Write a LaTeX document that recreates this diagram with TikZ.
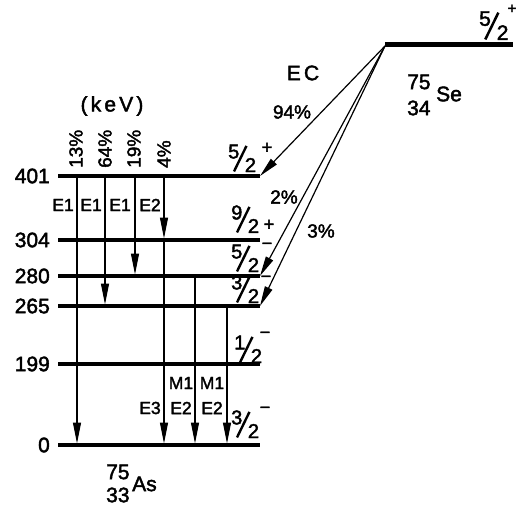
\documentclass[tikz,border=0pt]{standalone}
\usepackage{graphicx}
\usepackage{fontspec}
\setmainfont{Liberation Sans}[FakeBold=2]
\usetikzlibrary{arrows.meta}
\newcommand\myfr[2]{\raisebox{0.68em}{#1}\kern-0.32em\makebox[0pt][l]{\rotatebox{64}{\rule{1.42em}{0.12em}}}\kern0.6em#2}
\begin{document}
\begin{tikzpicture}[x=1pt,y=-1pt,
  lev/.style={line width=3.5pt},
  levthick/.style={line width=4.5pt},
  tr/.style={line width=1.2pt,-{Triangle[length=21pt,width=8pt]},shorten >=1.5pt},
  ec/.style={line width=1.2pt,-{Triangle[length=20pt,width=8pt]}},
  num/.style={font=\fontsize{21}{21}\selectfont,anchor=east,inner sep=0pt},
  mult/.style={font=\fontsize{17.5}{17.5}\selectfont,inner sep=0pt},
  pct/.style={font=\fontsize{19}{19}\selectfont,inner sep=0pt},
  spin/.style={font=\fontsize{20}{20}\selectfont,inner sep=0pt,anchor=base west},
  sgn/.style={font=\fontsize{18}{18}\selectfont,inner sep=0pt},
  big/.style={font=\fontsize{21}{21}\selectfont,inner sep=0pt}]
\useasboundingbox (0,0) rectangle (517,508);

% level end points
\coordinate (A401) at (58,176);  \coordinate (B401) at (260,176);
\coordinate (A304) at (58,240);  \coordinate (B304) at (260,240);
\coordinate (A280) at (58,276);  \coordinate (B280) at (260,276);
\coordinate (A265) at (58,306);  \coordinate (B265) at (260,306);
\coordinate (A199) at (58,364);  \coordinate (B199) at (260,364);
\coordinate (A0)   at (58,445);  \coordinate (B0)   at (260,445);
\coordinate (ASe)  at (385,45);  \coordinate (BSe)  at (513,45);

% levels
\draw[levthick] (A401) -- (B401);
\draw[lev] (A304) -- (B304);
\draw[lev] (A280) -- (B280);
\draw[lev] (A265) -- (B265);
\draw[lev] (A199) -- (B199);
\draw[levthick] (A0) -- (B0);
\draw[line width=5pt] (ASe) -- (BSe);

% transition x positions
\coordinate (x1) at (77,0);
\coordinate (x2) at (105,0);
\coordinate (x3) at (135,0);
\coordinate (x4) at (164,0);
\coordinate (x5) at (195,0);
\coordinate (x6) at (227,0);

\draw[tr] (x1 |- A401) -- (x1 |- A0);
\draw[tr] (x2 |- A401) -- (x2 |- A265);
\draw[tr] (x3 |- A401) -- (x3 |- A280);
\draw[tr] (x4 |- A401) -- (x4 |- A304);
\draw[tr] (x4 |- A304) -- (x4 |- A0);
\draw[tr] (x5 |- A280) -- (x5 |- A0);
\draw[tr] (x6 |- A265) -- (x6 |- A0);

% EC arrows
\coordinate (ecs) at (385,46);
\draw[ec] (ecs) -- (B401);
\draw[ec] (ecs) -- (B280);
\draw[ec] (ecs) -- (B265);

% energies
\node[num] (e401) at (50,176) {401};
\node[num] (e304) at (50,240) {304};
\node[num] (e280) at (50,276) {280};
\node[num] (e265) at (50,306) {265};
\node[num] (e199) at (50,364) {199};
\node[num] (e0)   at (50,445) {0};
\node[big] (kev) at (112,106) {\addfontfeature{LetterSpace=15}(keV)};

% intensities
\node[pct,rotate=90,anchor=west] (p1) at (76,168) {13\%};
\node[pct,rotate=90,anchor=west] (p2) at (105,168) {64\%};
\node[pct,rotate=90,anchor=west] (p3) at (134,168) {19\%};
\node[pct,rotate=90,anchor=west] (p4) at (164,168) {4\%};

% multipolarities
\node[mult] (m1) at (63,205) {E1};
\node[mult] (m2) at (91,205) {E1};
\node[mult] (m3) at (120,205) {E1};
\node[mult] (m4) at (150,205) {E2};
\node[mult] (m5) at (150,408) {E3};
\node[mult] (m6) at (181,383) {M1};
\node[mult] (m7) at (181,408) {E2};
\node[mult] (m8) at (212,383) {M1};
\node[mult] (m9) at (212,408) {E2};

% spins
\node[spin] (j401) at (228,172) {\myfr{5}{2}};
\node[sgn] (s401) at (267,148) {+};
\node[spin] (j304) at (231,233) {\myfr{9}{2}};
\node[sgn] (s304) at (269,225) {+};
\node[spin] (j280) at (231,272) {\myfr{5}{2}};
\node[sgn] (s280) at (267,246) {−};
\node[spin] (j265) at (231,303) {\myfr{3}{2}};
\node[sgn] (s265) at (266,279) {−};
\node[spin] (j199) at (234,363) {\myfr{1}{2}};
\node[sgn] (s199) at (265,335) {−};
\node[spin] (j0) at (231,438) {\myfr{3}{2}};
\node[sgn] (s0) at (265,410) {−};
\node[spin,font=\fontsize{21}{21}\selectfont] (jSe) at (479,40) {\myfr{5}{2}};
\node[sgn,font=\fontsize{15}{15}\selectfont] (sSe) at (512,9) {+};

% EC labels
\node[big] (ec) at (303,73) {\addfontfeature{LetterSpace=15}EC};
\node[pct] (q94) at (292,112) {94\%};
\node[pct] (q2) at (284,197) {2\%};
\node[pct] (q3) at (321,231) {3\%};

% nuclides
\node[big,anchor=west] (se75) at (407,82) {75};
\node[big,anchor=west] (se34) at (407,108) {34};
\node[big,anchor=west] (se) at (436,94) {Se};
\node[big,anchor=west] (as75) at (106,472) {75};
\node[big,anchor=west] (as33) at (106,495) {33};
\node[big,anchor=west] (as) at (132,484) {As};
\end{tikzpicture}
\end{document}
